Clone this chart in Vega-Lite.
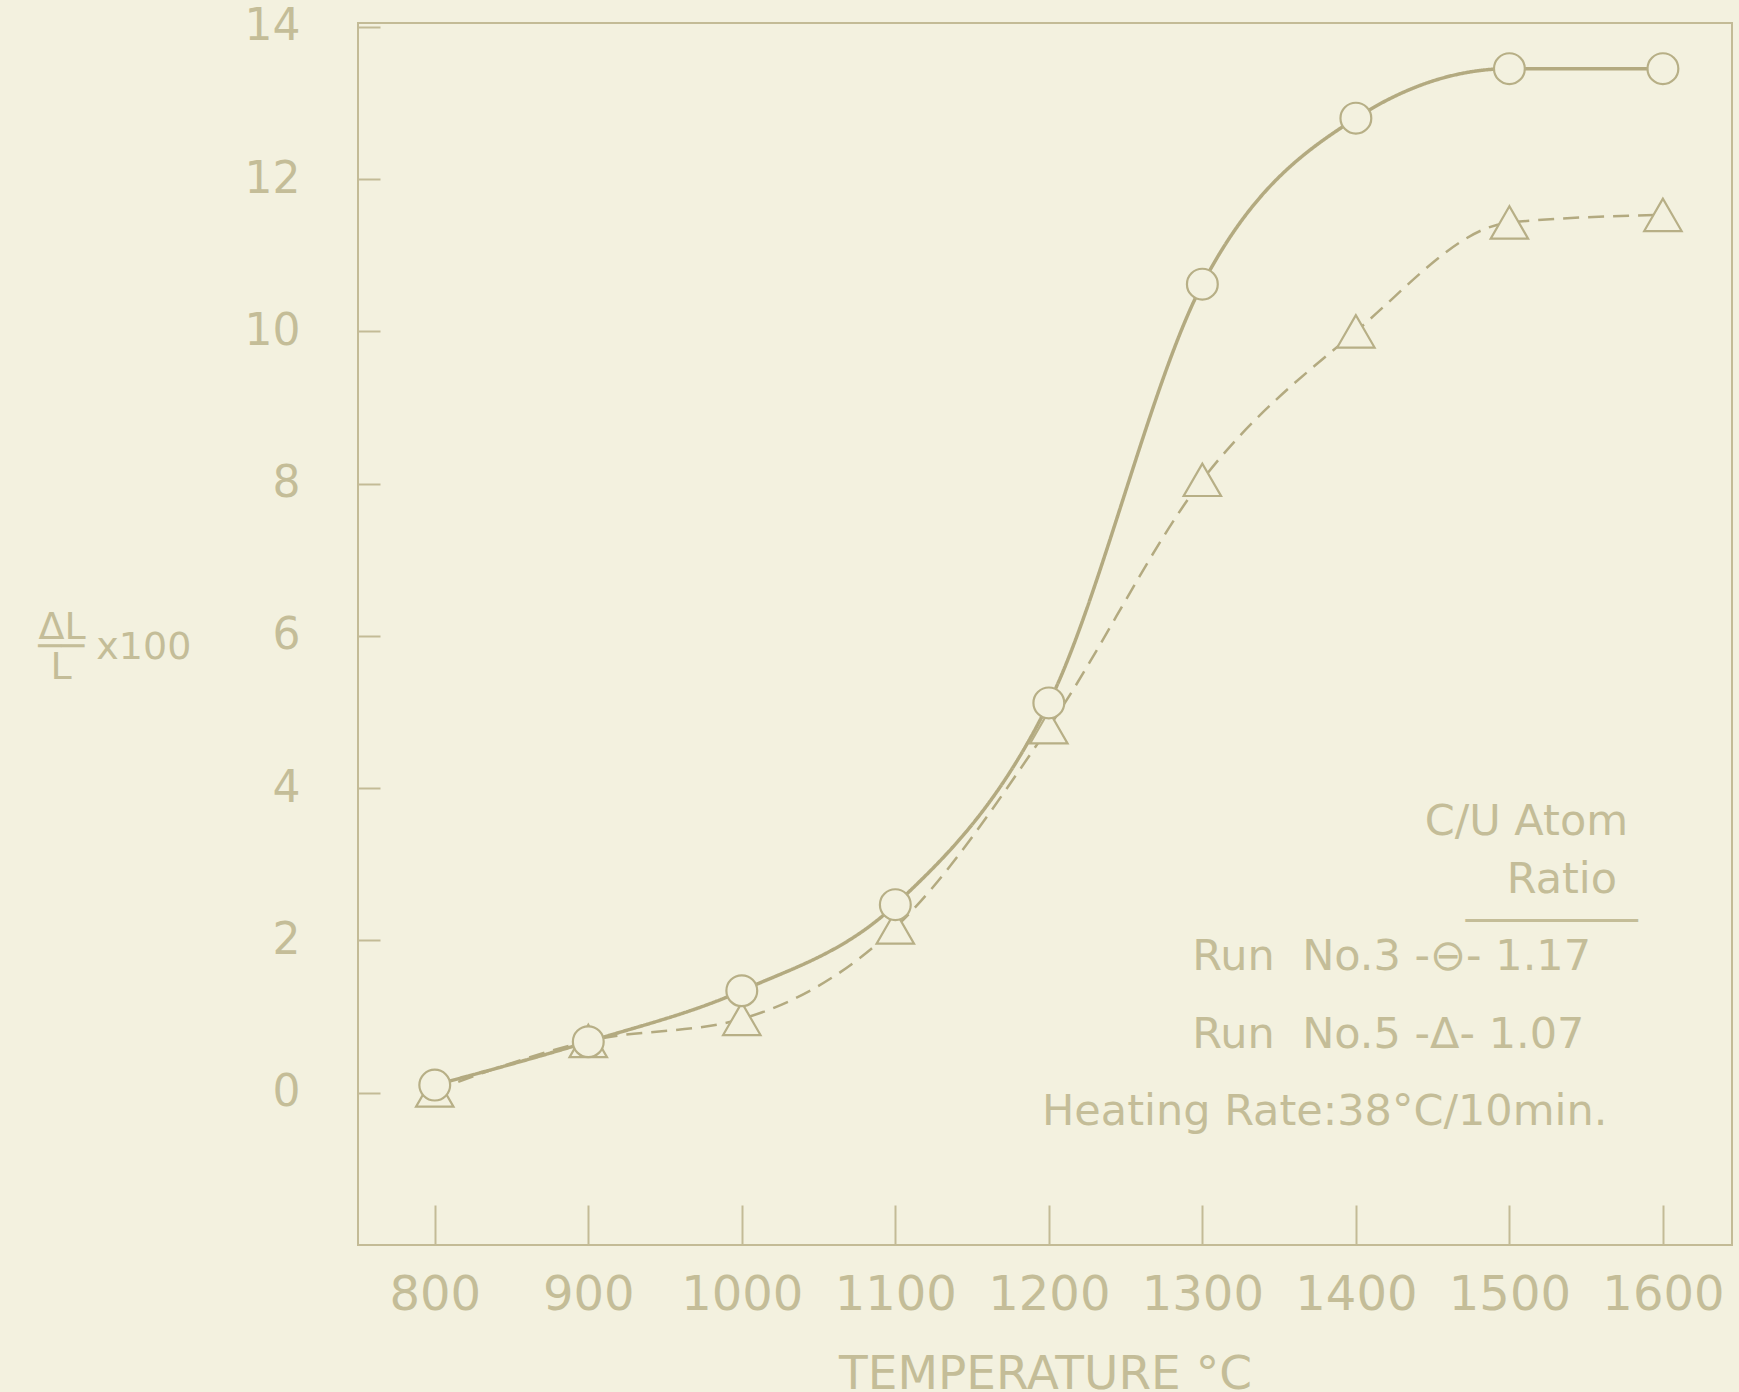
{
  "$schema": "https://vega.github.io/schema/vega-lite/v6.json",
  "width": 1374,
  "height": 1222,
  "autosize": {"type": "none"},
  "padding": {"left": 358, "top": 23, "right": 7, "bottom": 147},
  "background": "#f3f1df",
  "config": {
    "view": {"stroke": "#c3bb96", "strokeWidth": 2},
    "font": "DejaVu Sans",
    "axis": {
      "grid": false,
      "domain": false,
      "tickColor": "#c3bb96",
      "tickWidth": 2,
      "labelColor": "#c4bd98",
      "titleColor": "#c4bd98",
      "labelFont": "DejaVu Sans",
      "titleFont": "DejaVu Sans",
      "titleFontWeight": "normal"
    },
    "legend": {
      "padding": 0,
      "labelFont": "DejaVu Sans",
      "titleFont": "DejaVu Sans"
    }
  },
  "data": {
    "values": [
      {"run": "Run No.5", "temperature": 800, "dL": 0.03},
      {"run": "Run No.5", "temperature": 900, "dL": 0.68},
      {"run": "Run No.5", "temperature": 1000, "dL": 0.97},
      {"run": "Run No.5", "temperature": 1100, "dL": 2.17},
      {"run": "Run No.5", "temperature": 1200, "dL": 4.8},
      {"run": "Run No.5", "temperature": 1300, "dL": 8.05},
      {"run": "Run No.5", "temperature": 1400, "dL": 10.0},
      {"run": "Run No.5", "temperature": 1500, "dL": 11.43},
      {"run": "Run No.5", "temperature": 1600, "dL": 11.53},
      {"run": "Run No.3", "temperature": 800, "dL": 0.1},
      {"run": "Run No.3", "temperature": 900, "dL": 0.67},
      {"run": "Run No.3", "temperature": 1000, "dL": 1.34},
      {"run": "Run No.3", "temperature": 1100, "dL": 2.47},
      {"run": "Run No.3", "temperature": 1200, "dL": 5.12},
      {"run": "Run No.3", "temperature": 1300, "dL": 10.62},
      {"run": "Run No.3", "temperature": 1400, "dL": 12.8},
      {"run": "Run No.3", "temperature": 1500, "dL": 13.45},
      {"run": "Run No.3", "temperature": 1600, "dL": 13.45}
    ]
  },
  "encoding": {
    "x": {
      "field": "temperature",
      "type": "quantitative",
      "scale": {"domain": [750, 1645], "nice": false, "zero": false},
      "axis": {
        "values": [800, 900, 1000, 1100, 1200, 1300, 1400, 1500, 1600],
        "format": "d",
        "tickSize": -40,
        "labelPadding": 66,
        "labelFontSize": 48,
        "title": "TEMPERATURE °C",
        "titleFontSize": 47,
        "titleBaseline": "top",
        "titleY": 106
      }
    },
    "y": {
      "field": "dL",
      "type": "quantitative",
      "scale": {"domain": [-2, 14.05], "nice": false, "zero": false},
      "axis": {
        "values": [0, 2, 4, 6, 8, 10, 12, 14],
        "tickSize": -22,
        "labelPadding": 80,
        "labelFontSize": 44,
        "title": ["ΔL", "──\u00a0x100", "\u200b\u00a0L"],
        "titleAngle": 0,
        "titleAlign": "left",
        "titleBaseline": "top",
        "titleFontSize": 38,
        "titleLineHeight": 20,
        "titleX": -320,
        "titleY": 585
      }
    }
  },
  "layer": [
    {
      "mark": {"type": "line", "interpolate": "monotone", "color": "#b3aa80"},
      "encoding": {
        "strokeDash": {
          "field": "run",
          "type": "nominal",
          "scale": {"domain": ["Run No.3", "Run No.5"], "range": [[1, 0], [16, 9]]},
          "legend": {
            "orient": "none",
            "legendX": 684,
            "legendY": 778,
            "values": ["Run No.3", "Run No.5", "Heating"],
            "title": ["\u200b\u00a0\u00a0\u00a0\u00a0\u00a0\u00a0\u00a0\u00a0\u00a0\u00a0\u00a0\u00a0\u00a0\u00a0\u00a0\u00a0\u00a0\u00a0\u00a0\u00a0\u00a0\u00a0\u00a0\u00a0\u00a0\u00a0\u00a0\u00a0C/U Atom", "\u200b\u00a0\u00a0\u00a0\u00a0\u00a0\u00a0\u00a0\u00a0\u00a0\u00a0\u00a0\u00a0\u00a0\u00a0\u00a0\u00a0\u00a0\u00a0\u00a0\u00a0\u00a0\u00a0\u00a0\u00a0\u00a0\u00a0\u00a0\u00a0\u00a0\u00a0\u00a0\u00a0\u00a0\u00a0Ratio", "\u200b\u00a0\u00a0\u00a0\u00a0\u00a0\u00a0\u00a0\u00a0\u00a0\u00a0\u00a0\u00a0\u00a0\u00a0\u00a0\u00a0\u00a0\u00a0\u00a0\u00a0\u00a0\u00a0\u00a0\u00a0\u00a0\u00a0\u00a0\u00a0\u00a0\u00a0\u00a0‾‾‾‾‾‾‾‾"],
            "titleAnchor": "start",
            "titleAlign": "left",
            "titleFontSize": 43,
            "titleFontWeight": "normal",
            "titleColor": "#c4bd98",
            "titleLineHeight": 58,
            "titlePadding": -25,
            "titleLimit": 2000,
            "labelExpr": "datum.value == 'Run No.3' ? '\u200b\u00a0\u00a0\u00a0\u00a0\u00a0\u00a0\u00a0\u00a0\u00a0\u00a0\u00a0Run\u00a0\u00a0No.3\u00a0-⊖-\u00a01.17' : datum.value == 'Run No.5' ? '\u200b\u00a0\u00a0\u00a0\u00a0\u00a0\u00a0\u00a0\u00a0\u00a0\u00a0\u00a0Run\u00a0\u00a0No.5\u00a0-Δ-\u00a01.07' : 'Heating Rate:38°C/10min.'",
            "labelFontSize": 43,
            "labelColor": "#c4bd98",
            "labelLimit": 2000,
            "labelOffset": 0,
            "symbolSize": 0,
            "symbolStrokeWidth": 0,
            "symbolOpacity": 0,
            "rowPadding": 34
          }
        },
        "strokeWidth": {
          "field": "run",
          "type": "nominal",
          "scale": {"domain": ["Run No.3", "Run No.5"], "range": [3.5, 2.5]},
          "legend": null
        }
      }
    },
    {
      "mark": {"type": "point", "filled": true, "fill": "#f3f1df", "stroke": "#b7af86", "strokeWidth": 2.2, "opacity": 1},
      "encoding": {
        "shape": {
          "field": "run",
          "type": "nominal",
          "scale": {"domain": ["Run No.3", "Run No.5"], "range": ["circle", "triangle-up"]},
          "legend": null
        },
        "size": {
          "field": "run",
          "type": "nominal",
          "scale": {"domain": ["Run No.3", "Run No.5"], "range": [950, 1400]},
          "legend": null
        }
      }
    }
  ]
}
